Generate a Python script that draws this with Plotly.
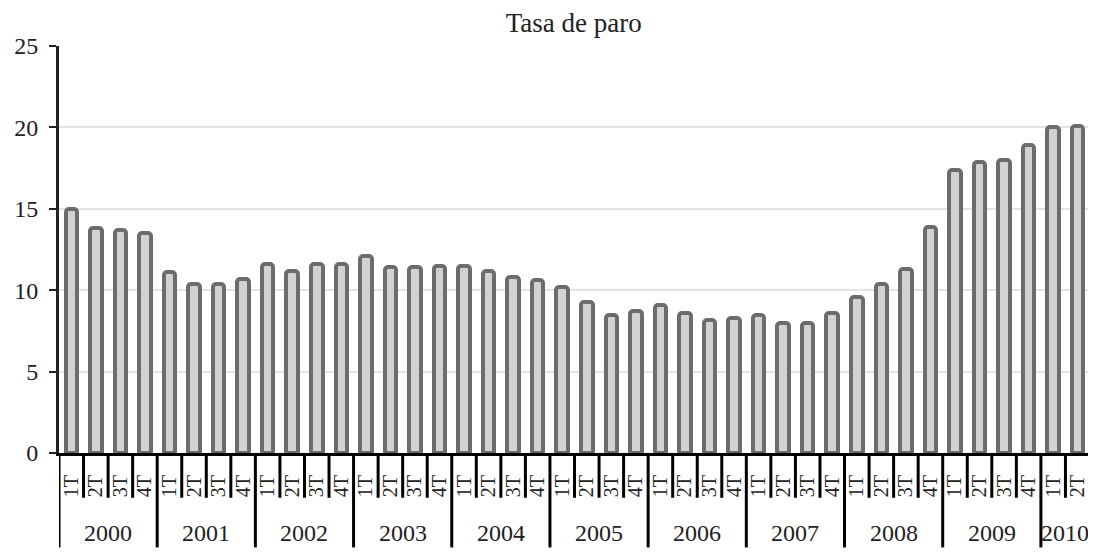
import plotly.graph_objects as go

years = ["2000", "2001", "2002", "2003", "2004", "2005", "2006", "2007", "2008", "2009", "2010"]
quarters_per_year = [4, 4, 4, 4, 4, 4, 4, 4, 4, 4, 2]
quarter_names = ["1T", "2T", "3T", "4T"]
rates = [
    15.0, 13.8, 13.7, 13.5,   # 2000
    11.1, 10.4, 10.4, 10.7,   # 2001
    11.6, 11.2, 11.6, 11.6,   # 2002
    12.1, 11.4, 11.4, 11.5,   # 2003
    11.5, 11.2, 10.8, 10.6,   # 2004
    10.2, 9.3, 8.5, 8.7,      # 2005
    9.1, 8.6, 8.2, 8.3,       # 2006
    8.5, 8.0, 8.0, 8.6,       # 2007
    9.6, 10.4, 11.3, 13.9,    # 2008
    17.4, 17.9, 18.0, 18.9,   # 2009
    20.0, 20.1,               # 2010
]
title_text = "Tasa de paro"

FONT = "Liberation Serif"

quarter_labels = []
year_start = []
for y, n in zip(years, quarters_per_year):
    year_start.append(len(quarter_labels))
    quarter_labels.extend(quarter_names[:n])
idx = list(range(len(rates)))

fig = go.Figure()
fig.add_trace(go.Bar(
    x=idx, y=rates,
    width=0.47,
    marker=dict(color="#d2d2d4", line=dict(color="#6c6c6f", width=4), cornerradius=3),
    showlegend=False,
))

shapes = []
q_bottom = -0.11
y_bottom = -0.232
year_bounds = set(year_start + [len(rates)])
for b in range(len(rates) + 1):
    xb = b - 0.5
    shapes.append(dict(type="line", xref="x", yref="paper", x0=xb, x1=xb,
                       y0=0, y1=(y_bottom if b in year_bounds else q_bottom),
                       line=dict(color="black", width=3)))

annotations = []
for y, s, n in zip(years, year_start, quarters_per_year):
    annotations.append(dict(x=s + (n - 1) / 2, y=-0.197, xref="x", yref="paper",
                            text=y, showarrow=False, yanchor="middle",
                            font=dict(family=FONT, size=24, color="#222")))

fig.update_layout(
    width=1088, height=548,
    margin=dict(l=51, r=6, t=38, b=103),
    plot_bgcolor="white", paper_bgcolor="white",
    title=dict(text=title_text, x=0.52, xanchor="center", y=0.974, yanchor="middle",
               font=dict(family=FONT, size=27, color="#222")),
    bargap=0,
    shapes=shapes,
    annotations=annotations,
    xaxis=dict(range=[-0.5, len(rates) - 0.5], tickmode="array", tickvals=idx,
               ticktext=quarter_labels, tickangle=-90, ticks="", showgrid=False,
               showline=True, linecolor="black", linewidth=3, zeroline=False,
               ticklabelstandoff=11,
               tickfont=dict(family=FONT, size=20, color="#222")),
    yaxis=dict(range=[0, 25], dtick=5, showgrid=True, gridcolor="#e4e4e4", gridwidth=2,
               showline=True, linecolor="#222", linewidth=3, zeroline=False,
               ticks="outside", ticklen=7, tickwidth=2, tickcolor="#222",
               ticklabelstandoff=6,
               tickfont=dict(family=FONT, size=24, color="#222")),
)

fig.write_html("out.html")
